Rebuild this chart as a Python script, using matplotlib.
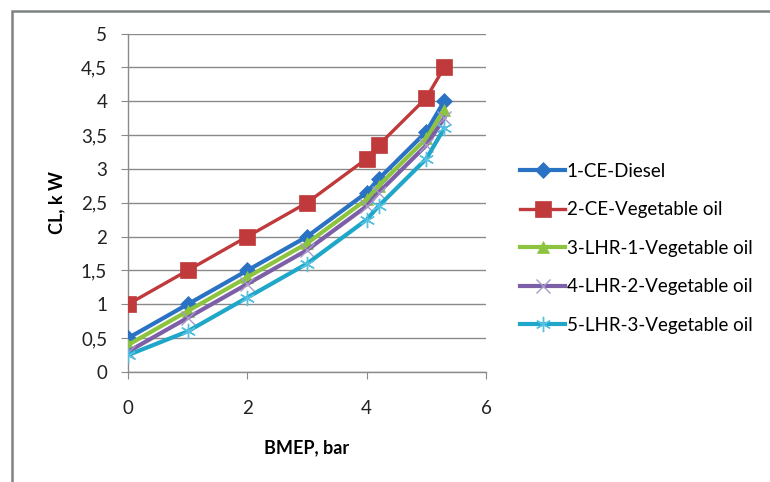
import matplotlib
matplotlib.use("Agg")
import matplotlib.pyplot as plt
from matplotlib.patches import Rectangle

bmep = [0, 1, 2, 3, 4, 4.2, 5, 5.3]
ce_diesel = [0.5, 1.0, 1.5, 2.0, 2.65, 2.85, 3.55, 4.0]
ce_veg = [1.0, 1.5, 2.0, 2.5, 3.15, 3.35, 4.05, 4.5]
lhr1_veg = [0.4, 0.9, 1.4, 1.9, 2.55, 2.75, 3.45, 3.87]
lhr2_veg = [0.3, 0.8, 1.3, 1.8, 2.45, 2.65, 3.35, 3.75]
lhr3_veg = [0.25, 0.6, 1.1, 1.6, 2.25, 2.45, 3.15, 3.6]

labels = ["1-CE-Diesel", "2-CE-Vegetable oil", "3-LHR-1-Vegetable oil",
          "4-LHR-2-Vegetable oil", "5-LHR-3-Vegetable oil"]
yticks = [0, 0.5, 1, 1.5, 2, 2.5, 3, 3.5, 4, 4.5, 5]
ytick_labels = ["0", "0,5", "1", "1,5", "2", "2,5", "3", "3,5", "4", "4,5", "5"]
xticks = [0, 2, 4, 6]

plt.rcParams['font.family'] = ['Lato', 'DejaVu Sans']

fig = plt.figure(figsize=(7.7, 4.82), dpi=100)
fig.patches.append(Rectangle((12/770, -0.1), 1.2, (482-11)/482 + 0.1,
                             transform=fig.transFigure, fill=False,
                             edgecolor='#7f8383', linewidth=1.8, zorder=0))
ax = fig.add_axes([128/770, (482-372)/482, (486-128)/770, (372-33.5)/482])

series = [ce_diesel, ce_veg, lhr1_veg, lhr2_veg, lhr3_veg]
colors = ['#2a72c4', '#c0393b', '#8cc43f', '#7c5fa6', '#1ea7c9']
markers = ['D', 's', '^', 'x', (6, 2, 0)]
msizes = [8, 11, 9, 10, 11]
lws = [3.0, 2.4, 3.0, 3.0, 3.0]
for ys, c, m, ms, lw, lab in zip(series, colors, markers, msizes, lws, labels):
    thin = m in ('x', (6, 2, 0))
    ax.plot(bmep, ys, color=c, lw=lw, marker=m, markersize=ms,
            markeredgewidth=1.0 if thin else 0.5,
            markeredgecolor=(('#a59ac8' if m == 'x' else '#55c0e0') if thin else c),
            label=lab, zorder=3)

ax.set_xlim(0, 6)
ax.set_ylim(0, 5)
ax.set_yticks(yticks)
ax.set_yticklabels(ytick_labels)
ax.set_xticks(xticks)
ax.yaxis.grid(True, color='#8a8a8a', lw=1.0)
ax.set_axisbelow(True)
for s in ['top', 'right']:
    ax.spines[s].set_visible(False)
for s in ['left', 'bottom']:
    ax.spines[s].set_color('#8a8a8a')
    ax.spines[s].set_linewidth(1.0)
ax.tick_params(axis='both', colors='#8a8a8a', labelcolor='#222222', labelsize=13.5, length=5)
ax.tick_params(axis='x', pad=15)
ax.tick_params(axis='y', pad=10)
ax.set_xlabel("BMEP, bar", fontsize=13, fontweight='bold', labelpad=16)
ax.set_ylabel("CL, k W", fontsize=13, fontweight='bold', labelpad=11)

leg = ax.legend(loc='upper left', bbox_to_anchor=(520/770, (482-163)/482), bbox_transform=fig.transFigure,
                frameon=False, fontsize=13.5, labelspacing=1.14, handlelength=2.4,
                handletextpad=0.1, borderaxespad=0, borderpad=0)

fig.savefig("out.png", dpi=100, facecolor='white')
